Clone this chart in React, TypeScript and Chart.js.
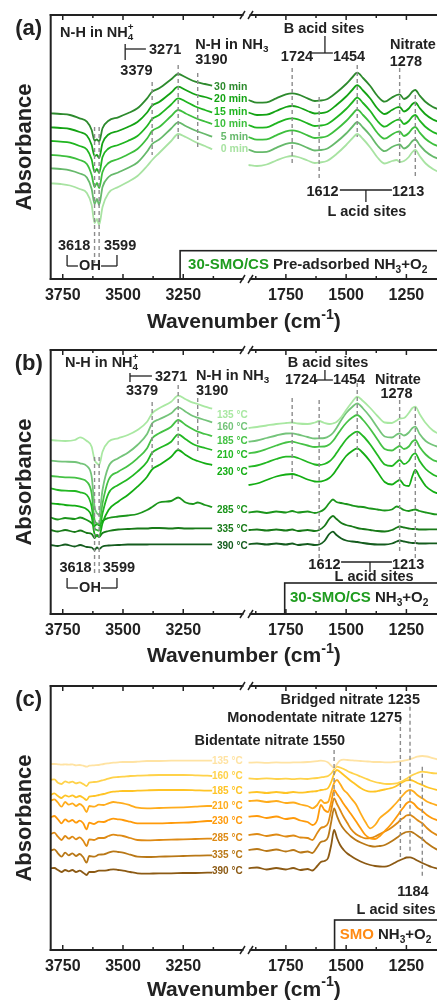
import React, { useEffect, useRef } from "react";
import { Chart, registerables } from "chart.js";

Chart.register(...registerables);

const FONT = '"Liberation Sans", Arial, Helvetica, sans-serif';
const INK = "#222222";
const DASH = "#8c8c8c";
const GREEN_TXT = "#1f9c1f";
const ORANGE_TXT = "#ff8a14";

// broken x axis: 3800 -> 3000 | 1926 -> 1123
const LEFT_START = 3800;
const BREAK_C = 800;
const RIGHT_START = 1926;
const X_MAX_C = 1603;
const Y_MAX = 264;
const toC = (wn: number) => (wn >= 2500 ? LEFT_START - wn : BREAK_C + (RIGHT_START - wn));
const fromC = (c: number) => (c <= BREAK_C ? LEFT_START - c : RIGHT_START - (c - BREAK_C));

const X_MAJOR_TICKS = [3750, 3500, 3250, 1750, 1500, 1250];
const X_MINOR_TICKS = [3625, 3375, 3125, 1875, 1625, 1375];

// ---------------- Panel (a) data ----------------
const A_WN_LEFT = [3800, 3760, 3720, 3680, 3650, 3630, 3618, 3608, 3599, 3585, 3560, 3520, 3480, 3440, 3400, 3379, 3350, 3300, 3271, 3240, 3200, 3160, 3130];
const A_WN_RIGHT = [1905, 1870, 1830, 1790, 1750, 1724, 1700, 1660, 1630, 1612, 1580, 1540, 1500, 1475, 1454, 1430, 1400, 1370, 1340, 1310, 1290, 1278, 1260, 1240, 1225, 1213, 1195, 1170, 1140, 1120];
const A_TIMES = ["30 min", "20 min", "15 min", "10 min", "5 min", "0 min"];
const A_30_L = [165.7, 165, 164, 160.7, 157.3, 149, 138.3, 139.7, 137.3, 150.7, 158.3, 161.7, 165.7, 170.7, 180.7, 187.3, 190.7, 199.7, 205, 201.7, 197.3, 195, 193.3];
const A_30_R = [179, 176.3, 176.7, 180.7, 184.7, 185.7, 184.7, 180.7, 178, 178.3, 179.7, 186.5, 195, 201.5, 206.3, 201, 193, 183, 177.3, 181.5, 184, 184.7, 180, 183, 187.5, 189, 183.5, 177, 172, 170];
const A_20_L = [151.7, 151, 150, 147, 143.5, 134, 123, 124, 121, 136, 144.5, 148, 152, 157, 166.5, 173.5, 177, 186.5, 192.3, 189, 184.5, 182, 179.7];
const A_20_R = [166.5, 164, 164.3, 168, 172, 173, 172, 168, 165.5, 165.8, 167, 174, 182.5, 189, 193.8, 188.5, 180.5, 170.5, 165, 169, 171.5, 172, 167.5, 170.5, 175, 176.5, 171, 164.5, 159.5, 157.5];
const A_15_L = [138, 137.3, 136.3, 133, 129.5, 119.5, 107, 110, 106, 122, 130.5, 134, 138, 143, 153, 160, 164, 174.5, 180.7, 177.5, 172.5, 169, 166.7];
const A_15_R = [154, 151.3, 151.7, 155.7, 159.7, 160.7, 159.7, 155.7, 153, 153.3, 154.7, 161.5, 170, 176.5, 181.3, 176, 168, 158, 152.3, 156.5, 159, 159.5, 155, 158, 162.5, 164, 158.5, 152, 147, 145];
const A_10_L = [124, 123.3, 122, 119, 115, 104, 92, 96, 91, 107, 116, 120, 124.5, 130, 140.5, 148, 152, 163, 169, 165.5, 161, 157.5, 155];
const A_10_R = [142, 139.3, 139.7, 143.7, 147.7, 148.7, 147.7, 143.7, 141, 141.3, 142.7, 149.5, 158, 164.5, 169.3, 164, 156, 146, 140.3, 144.5, 147, 147.5, 143, 146, 150.5, 152, 146.5, 140, 135, 133];
const A_5_L = [110.7, 110, 108.7, 105.5, 101.5, 90, 75, 80, 74, 92, 102, 106.5, 111, 116.5, 127.5, 135, 139.5, 150.5, 156.7, 153, 148.5, 145, 142.3];
const A_5_R = [129.5, 126.8, 127.2, 131.2, 135.2, 136.2, 135.2, 131.2, 128.5, 128.8, 130.2, 137, 145.5, 152, 156.8, 151.5, 143.5, 133.5, 127.8, 132, 134, 134.5, 130.5, 133.5, 138, 139.5, 134, 127.5, 122.5, 120.5];
const A_0_L = [95.7, 95, 93.5, 90, 86, 74, 56, 60, 54, 72, 86, 92, 97, 103, 113, 119, 126, 138, 145, 142, 137, 133, 129.7];
const A_0_R = [114, 113, 114.5, 118.5, 122, 123, 122, 118.5, 116, 116.5, 118, 125, 134, 140.5, 145, 140, 131.5, 121.5, 115.5, 118, 119, 117, 118, 122, 127, 129, 123, 115.5, 110, 107.5];

// ---------------- Panel (b) data ----------------
const B_WN_LEFT = [3800, 3770, 3740, 3700, 3678, 3650, 3630, 3618, 3608, 3599, 3585, 3560, 3520, 3480, 3440, 3400, 3379, 3350, 3300, 3271, 3240, 3210, 3190, 3160, 3130];
const B_WN_RIGHT = [1905, 1870, 1830, 1790, 1750, 1724, 1700, 1660, 1630, 1612, 1590, 1570, 1555, 1540, 1520, 1500, 1475, 1454, 1430, 1400, 1370, 1340, 1310, 1290, 1278, 1260, 1240, 1225, 1213, 1195, 1170, 1140, 1120];
const B_TEMPS = ["135 °C", "160 °C", "185 °C", "210 °C", "230 °C", "285 °C", "335 °C", "390 °C"];
const B_135_L = [174, 173.3, 173, 174, 176.7, 173, 167.3, 154, 150.7, 149, 162.3, 172.3, 175.7, 179, 184, 192.3, 200.7, 205.7, 212.3, 218.3, 214.7, 211.3, 210, 207.3, 205.3];
const B_135_R = [186, 187, 188.5, 190, 191, 191.5, 190.5, 190, 191.5, 193, 191, 190, 190.5, 192, 197, 204, 212, 217.3, 213, 206, 198, 191.5, 191, 193.5, 195.5, 196, 201, 206, 207.3, 200, 191, 183.5, 180.7];
const B_160_L = [153.3, 152.7, 152.3, 152, 150.7, 148, 137.3, 107.3, 100.7, 99, 124, 147.3, 155.7, 161.3, 169, 180, 190.7, 194.7, 200.7, 206.7, 202.3, 198, 196.3, 194, 191.7];
const B_160_R = [172.3, 173.5, 176, 178.5, 180.5, 180.7, 179.5, 177, 175.5, 175.7, 176, 178, 181, 186, 194, 201, 207, 210.7, 205.5, 197, 186.5, 177.5, 176.5, 179.5, 180.7, 178.5, 181.5, 186, 187.3, 180, 173, 169, 167.3];
const B_185_L = [138, 137.3, 136.7, 136.3, 135.3, 132.3, 120.7, 94, 90.7, 90, 110.7, 134, 142.3, 148, 155.7, 165.7, 175.7, 180.7, 187.3, 194, 189, 184.7, 182.3, 180, 178];
const B_185_R = [160.7, 162, 165, 168.5, 171.5, 172.3, 171, 168.5, 167, 167.3, 167.5, 169.5, 173, 178, 185, 191, 196.5, 199, 194, 185, 174.5, 165, 163.5, 166.5, 168, 165, 167.5, 172.5, 174, 167, 159.5, 154, 152.3];
const B_210_L = [125.7, 124, 123.3, 123, 121.7, 119, 107.3, 85.7, 84, 83.3, 100.7, 120.7, 129, 134.7, 142.3, 152.3, 161.3, 165.7, 172.3, 179.7, 174.7, 170, 168, 166, 164];
const B_210_R = [147.3, 148.5, 151.5, 155, 157.3, 157.3, 156, 152, 149.5, 149, 150, 152.5, 156, 161, 168, 174.5, 180, 182.3, 178, 169.5, 159, 149.5, 148, 152, 154, 150, 153, 159, 160.7, 153, 145, 139.5, 137.3];
const B_230_L = [110.7, 110, 109, 108.3, 107.3, 104.7, 97.3, 80, 78, 77.3, 90.7, 104, 112.3, 119, 127.3, 137.3, 144.7, 149, 157.3, 164, 159, 154.7, 153, 150.7, 149];
const B_230_R = [129, 130.5, 134, 137.5, 139.5, 140, 138.5, 134.5, 132.5, 132.3, 133.5, 136, 139.5, 144.5, 151.5, 158, 163, 165.7, 161, 152.5, 142, 132, 129.5, 132.5, 134, 129, 128, 138, 144, 137, 128, 122.5, 120.7];
const B_285_L = [96.5, 94.5, 96, 95, 96.5, 94, 91, 88, 90, 88.5, 93, 96, 97.5, 98.5, 100, 104, 107, 111.5, 113, 116.5, 111.5, 110, 111.5, 109, 107];
const B_285_R = [101.5, 102.5, 101, 102.5, 101.5, 103, 101.5, 102.5, 101, 102, 105, 111, 114.5, 112, 111, 110, 108.5, 107.5, 107, 105.5, 104.5, 103.5, 104.5, 107.5, 106.5, 104, 103, 104, 104.5, 103, 101.5, 100, 99.5];
const B_335_L = [84, 82.5, 84, 82, 83.5, 81, 80, 76, 79, 77, 81, 83, 84.5, 85, 85.5, 85.5, 86, 86, 85.5, 86, 85.5, 85.5, 85.7, 85.7, 85.7];
const B_335_R = [84, 84.5, 83.5, 84.5, 83.5, 84.5, 83, 84, 83, 84, 88, 95, 98, 95, 91, 89, 87.5, 86, 85, 84, 83, 82.5, 84, 86.5, 87.5, 86.5, 85.5, 85, 85, 84.5, 84.5, 84.7, 84.7];
const B_390_L = [69, 68, 69.5, 67.5, 69, 67, 66.5, 64, 66.5, 65, 67.5, 68.5, 69, 69.5, 69.5, 69.5, 69.7, 69.7, 69.7, 69.7, 69.7, 69.7, 69.7, 69.7, 69.7];
const B_390_R = [69.7, 70.5, 69.5, 70.5, 69.5, 70.5, 69, 70, 69, 69.5, 73, 80, 82.3, 79, 75.5, 73.5, 72.5, 72, 71, 70, 69.5, 69.5, 70.5, 72.5, 73.5, 72.5, 71.5, 71, 71, 70.5, 70.5, 70.7, 70.7];

// ---------------- Panel (c) data ----------------
const C_WN_LEFT = [3800, 3785, 3770, 3755, 3740, 3725, 3710, 3695, 3680, 3665, 3651, 3640, 3620, 3600, 3580, 3560, 3540, 3520, 3500, 3470, 3440, 3400, 3350, 3300, 3250, 3200, 3150, 3130];
const C_WN_RIGHT = [1905, 1870, 1830, 1790, 1750, 1720, 1690, 1660, 1640, 1620, 1605, 1590, 1575, 1562, 1550, 1538, 1525, 1510, 1495, 1480, 1460, 1440, 1420, 1400, 1380, 1360, 1340, 1320, 1300, 1285, 1275, 1260, 1250, 1235, 1220, 1205, 1184, 1165, 1145, 1120];
const C_TEMPS = ["135 °C", "160 °C", "185 °C", "210 °C", "230 °C", "285 °C", "335 °C", "390 °C"];
const C_135_L = [186, 186, 185.7, 185.3, 185.7, 185.3, 185.7, 184.7, 185, 184.3, 183.3, 184.3, 184.7, 185, 186, 186.7, 187.3, 187.7, 188, 188, 188.3, 189, 189, 189.3, 189.3, 189.3, 189.3, 189.3];
const C_135_R = [187.3, 187.6, 187.2, 187.6, 187.3, 187.6, 187.7, 188, 188.3, 188.8, 189.3, 189, 187.5, 184.5, 182, 186, 189.5, 190.3, 190, 189.7, 189.3, 189, 188.7, 188.3, 188, 188, 187.7, 187.7, 188, 188.3, 188.7, 189.3, 189.8, 190.7, 192, 193.3, 194, 193.5, 192.2, 190.5];
const C_160_L = [170, 170.7, 167.3, 166, 168.7, 167.3, 168.3, 166.7, 167.7, 166, 164, 167.3, 168, 168.7, 170, 171.3, 172.7, 173, 173.3, 174, 174.3, 174.7, 175, 175, 175, 174.7, 174.3, 174];
const C_160_R = [171.7, 171, 171.6, 171, 171.4, 170.8, 171.3, 171, 171.6, 172, 172.6, 173.2, 174, 176.5, 180.5, 183.3, 182.5, 181, 179, 177.3, 175.5, 173.5, 171.5, 169.5, 168, 167, 166.2, 166, 166.3, 167, 168, 169.8, 171.2, 173.5, 175.5, 177, 178.3, 177.8, 177, 176.5];
const C_185_L = [155, 156.7, 154, 152, 154.7, 153.3, 154.7, 152.7, 154, 152.3, 150, 153.3, 154, 155, 156, 157.3, 158.3, 158.7, 159, 159, 159.3, 159.7, 160, 160, 160, 159.7, 159.3, 159.3];
const C_185_R = [157.3, 158, 157, 158, 157, 158, 157.3, 158, 158.5, 159, 160, 160.5, 162, 168, 176, 180, 178, 175, 172, 169, 165.5, 162, 159.5, 158.3, 158.5, 159.5, 160.5, 161.5, 163, 165, 166.5, 168.5, 169.5, 170, 169, 167, 165, 163, 161.5, 160];
const C_210_L = [149.3, 150.7, 147.3, 143.3, 148, 145.3, 146.7, 144, 146, 143.3, 138, 144, 143.3, 145.3, 145, 146.7, 148, 147.3, 146.7, 144.7, 142.3, 141.7, 142, 142.3, 142.7, 143.3, 144, 144];
const C_210_R = [149, 149.5, 148, 149, 147, 147.5, 145.5, 144, 141.7, 145, 150, 147, 148, 158, 167, 170, 166, 160, 156.7, 152, 146, 136.7, 128, 121.7, 125, 132, 136, 140, 145, 149, 152, 156, 158.5, 160, 158.5, 155, 151.7, 148.5, 146.5, 144.5];
const C_230_L = [132.7, 134, 130.7, 126.7, 130.7, 128.3, 130, 127.3, 129.3, 126.7, 120.7, 127.3, 126, 128.3, 128, 130, 131.3, 130.7, 130, 128.3, 126.7, 126.7, 126.7, 127, 127.3, 128, 129, 129];
const C_230_R = [133.3, 134, 132, 133.5, 131, 132, 129.5, 128, 125, 130, 145, 140, 138, 148, 160, 156, 151.7, 146, 141, 136, 129, 121.7, 115, 111.7, 111, 114, 119, 124, 130, 135, 138.5, 143.3, 146.5, 148.3, 146.5, 142.5, 139, 135, 132, 129.5];
const C_285_L = [116, 117.3, 113.3, 110, 114, 111.3, 113.3, 110.7, 112.7, 109.3, 104, 110.7, 110, 112, 112, 114, 115.3, 114.7, 114, 112, 110, 109.7, 110, 110.3, 110.7, 111, 111.3, 111.3];
const C_285_R = [115, 116, 114, 115.5, 113.5, 114.5, 112.5, 112, 110, 117, 122, 123.3, 127, 140, 151.7, 146, 140, 133, 127, 121, 116, 113.3, 111.7, 112, 113.5, 116, 118.5, 121, 124.5, 127.5, 130, 132.5, 134.5, 135, 133, 130, 126.7, 122, 118, 114.5];
const C_335_L = [99.3, 100.7, 96.7, 93.3, 97.3, 94.7, 96.7, 94, 96, 92.7, 87.3, 94, 93.3, 95.3, 95.7, 97.3, 98.7, 98, 97.3, 95.3, 93.3, 93, 93.3, 93.7, 94, 94.3, 94.7, 94.7];
const C_335_R = [100, 101, 99, 100.5, 98.5, 100, 97.5, 98.5, 97, 103, 108, 109, 113, 128, 141.7, 134, 126.7, 121, 117, 113.5, 110, 107.5, 105.5, 104, 103.3, 104, 105, 107.5, 110.5, 113, 115, 117, 118, 118.3, 117, 114.5, 111, 107, 103.5, 100];
const C_390_L = [81.7, 82, 80, 78, 80, 78.7, 80, 78, 79.3, 77.3, 75, 78, 78, 79.3, 79.3, 80, 80.7, 80, 79.3, 78, 76.7, 76.3, 76.7, 76.7, 77, 77, 77.3, 77.3];
const C_390_R = [81.7, 82.5, 80.5, 82, 80.5, 82, 80, 81, 79.5, 84, 88, 89, 92, 105, 120, 112, 105, 100, 96.5, 94, 91, 88.5, 86.5, 85, 84, 83.5, 83.3, 84.5, 87, 89, 90, 91.5, 92.5, 92.7, 91.5, 89.5, 87, 85, 83, 81.5];

// ---------------- styling / annotation layout ----------------
type Seg = { t: string; s?: "sub" | "sup"; c?: string; stay?: boolean };
const T = (t: string, extra: any = {}): Seg => ({ t, ...extra });
type TextAnn = { segs: Seg[]; wn: number; v: number; align: "left" | "center" | "right"; size?: number };
type Line4 = [number, number, number, number];

const NH4 = [T("N-H in NH"), T("4", { s: "sub", stay: true }), T("+", { s: "sup" })];
const NH3 = [T("N-H in NH"), T("3", { s: "sub" })];
const GAS = [T(" NH"), T("3", { s: "sub" }), T("+O"), T("2", { s: "sub" })];

const PANELS: any[] = [
  {
    tag: "(a)", height: 335, axisH: 56, titleDy: 43.5,
    wnLeft: A_WN_LEFT, wnRight: A_WN_RIGHT,
    series: [
      { name: A_TIMES[0], color: "#2d8a2d", left: A_30_L, right: A_30_R },
      { name: A_TIMES[1], color: "#14a314", left: A_20_L, right: A_20_R },
      { name: A_TIMES[2], color: "#1fb51f", left: A_15_L, right: A_15_R },
      { name: A_TIMES[3], color: "#3dbf3d", left: A_10_L, right: A_10_R },
      { name: A_TIMES[4], color: "#66b96b", left: A_5_L, right: A_5_R },
      { name: A_TIMES[5], color: "#a8e3a2", left: A_0_L, right: A_0_R },
    ],
    labelSize: 10.5,
    labelPos: [[3122, 192.3], [3122, 179.7], [3122, 166.7], [3122, 155], [3094, 142.3], [3094, 129.7]],
    texts: [
      { segs: NH4, wn: 3761, v: 246, align: "left" },
      { segs: [T("3271")], wn: 3392, v: 229, align: "left" },
      { segs: [T("3379")], wn: 3444, v: 208, align: "center" },
      { segs: NH3, wn: 3200, v: 234, align: "left" },
      { segs: [T("3190")], wn: 3200, v: 219, align: "left" },
      { segs: [T("B acid sites")], wn: 1592, v: 250, align: "center" },
      { segs: [T("1724")], wn: 1704, v: 222, align: "center" },
      { segs: [T("1454")], wn: 1488, v: 222, align: "center" },
      { segs: [T("Nitrate")], wn: 1223, v: 234, align: "center" },
      { segs: [T("1278")], wn: 1252, v: 217, align: "center" },
      { segs: [T("1612")], wn: 1598, v: 87, align: "center" },
      { segs: [T("1213")], wn: 1243, v: 87, align: "center" },
      { segs: [T("L acid sites")], wn: 1414, v: 67, align: "center" },
      { segs: [T("3618")], wn: 3703, v: 33, align: "center" },
      { segs: [T("3599")], wn: 3512, v: 33, align: "center" },
      { segs: [T("OH")], wn: 3637, v: 13, align: "center" },
    ],
    lines: [
      [3491, 235, 3491, 219], [3491, 230, 3405, 230],
      [1588, 243, 1588, 226], [1646, 226, 1555, 226],
      [1526, 89, 1310, 89], [1418, 89, 1418, 77],
      [3732, 24, 3732, 13], [3732, 13, 3687, 13], [3591, 13, 3525, 13], [3525, 13, 3525, 24],
    ],
    dashes: [
      [3379, 197, 3379, 124], [3271, 214, 3271, 139], [3190, 206, 3190, 132],
      [1724, 211, 1724, 116], [1612, 182, 1612, 99], [1454, 214, 1454, 142], [1278, 211, 1278, 116], [1213, 184, 1213, 101],
      [3618, 152, 3618, 16], [3599, 152, 3599, 16],
    ],
    box: { wn: 3263, v: 28.3, textWn: 3230, textV: 14, size: 15,
      segs: [T("30-SMO/CS", { c: GREEN_TXT }), T(" Pre-adsorbed NH"), T("3", { s: "sub" }), T("+O"), T("2", { s: "sub" })] },
  },
  {
    tag: "(b)", height: 336, axisH: 57, titleDy: 42.5,
    wnLeft: B_WN_LEFT, wnRight: B_WN_RIGHT,
    series: [
      { name: B_TEMPS[0], color: "#a9e8a2", left: B_135_L, right: B_135_R },
      { name: B_TEMPS[1], color: "#74c47a", left: B_160_L, right: B_160_R },
      { name: B_TEMPS[2], color: "#45c245", left: B_185_L, right: B_185_R },
      { name: B_TEMPS[3], color: "#23b823", left: B_210_L, right: B_210_R },
      { name: B_TEMPS[4], color: "#13ad13", left: B_230_L, right: B_230_R },
      { name: B_TEMPS[5], color: "#1b951b", left: B_285_L, right: B_285_R },
      { name: B_TEMPS[6], color: "#187a18", left: B_335_L, right: B_335_R },
      { name: B_TEMPS[7], color: "#145c1e", left: B_390_L, right: B_390_R },
    ],
    labelSize: 10,
    labelPos: [[3110, 199], [3110, 186.3], [3110, 173], [3110, 159], [3110, 142], [3110, 104], [3110, 85], [3110, 68]],
    texts: [
      { segs: NH4, wn: 3741, v: 251.3, align: "left" },
      { segs: [T("3271")], wn: 3367, v: 237, align: "left" },
      { segs: [T("3379")], wn: 3421, v: 223, align: "center" },
      { segs: NH3, wn: 3197, v: 238, align: "left" },
      { segs: [T("3190")], wn: 3197, v: 223, align: "left" },
      { segs: [T("B acid sites")], wn: 1575, v: 251.3, align: "center" },
      { segs: [T("1724")], wn: 1687, v: 234, align: "center" },
      { segs: [T("1454")], wn: 1488, v: 234, align: "center" },
      { segs: [T("Nitrate")], wn: 1285, v: 234, align: "center" },
      { segs: [T("1278")], wn: 1291, v: 220, align: "center" },
      { segs: [T("1612")], wn: 1590, v: 49, align: "center" },
      { segs: [T("1213")], wn: 1243, v: 49, align: "center" },
      { segs: [T("L acid sites")], wn: 1384, v: 37, align: "center" },
      { segs: [T("3618")], wn: 3697, v: 46, align: "center" },
      { segs: [T("3599")], wn: 3517, v: 46, align: "center" },
      { segs: [T("OH")], wn: 3637, v: 26, align: "center" },
    ],
    lines: [
      [3471, 241, 3471, 232], [3471, 238, 3380, 238],
      [1588, 244, 1588, 234], [1625, 234, 1555, 234],
      [1521, 52, 1310, 52], [1401, 52, 1401, 42],
      [3732, 36, 3732, 26], [3732, 26, 3687, 26], [3591, 26, 3525, 26], [3525, 26, 3525, 36],
    ],
    dashes: [
      [3379, 212, 3379, 146], [3271, 229, 3271, 164], [3190, 216, 3190, 161],
      [1724, 216, 1724, 134], [1612, 214, 1612, 54], [1454, 231, 1454, 157], [1278, 214, 1278, 61], [1213, 207, 1213, 54],
      [3618, 157, 3618, 41], [3599, 157, 3599, 41],
    ],
    box: { wn: 1755, v: 31, textWn: 1733, textV: 16, size: 15,
      segs: [T("30-SMO/CS", { c: GREEN_TXT }), ...GAS] },
  },
  {
    tag: "(c)", height: 332, axisH: 53, titleDy: 40,
    wnLeft: C_WN_LEFT, wnRight: C_WN_RIGHT,
    series: [
      { name: C_TEMPS[0], color: "#ffe3a3", left: C_135_L, right: C_135_R },
      { name: C_TEMPS[1], color: "#ffd24a", left: C_160_L, right: C_160_R },
      { name: C_TEMPS[2], color: "#ffc425", left: C_185_L, right: C_185_R },
      { name: C_TEMPS[3], color: "#ffac1c", left: C_210_L, right: C_210_R },
      { name: C_TEMPS[4], color: "#ff9a0a", left: C_230_L, right: C_230_R },
      { name: C_TEMPS[5], color: "#de8a14", left: C_285_L, right: C_285_R },
      { name: C_TEMPS[6], color: "#b97817", left: C_335_L, right: C_335_R },
      { name: C_TEMPS[7], color: "#8c5a14", left: C_390_L, right: C_390_R },
    ],
    labelSize: 10,
    labelPos: [[3131, 189], [3131, 173.3], [3131, 158.3], [3131, 143.3], [3131, 128.3], [3131, 111.7], [3131, 95], [3131, 78.3]],
    texts: [
      { segs: [T("Bridged nitrate 1235")], wn: 1483, v: 250, align: "center" },
      { segs: [T("Monodentate nitrate 1275")], wn: 1631, v: 231.7, align: "center" },
      { segs: [T("Bidentate nitrate 1550")], wn: 1817, v: 209, align: "center" },
      { segs: [T("1184")], wn: 1223, v: 58.3, align: "center" },
      { segs: [T("L acid sites")], wn: 1293, v: 40, align: "center" },
    ],
    lines: [],
    dashes: [
      [1550, 200, 1550, 150], [1275, 230, 1275, 90], [1235, 243.3, 1235, 98.3], [1184, 183.3, 1184, 73.3],
    ],
    box: { wn: 1548, v: 30, textWn: 1527, textV: 15, size: 15,
      segs: [T("SMO", { c: ORANGE_TXT }), ...GAS] },
  },
];

function buildPoints(wl: number[], l: number[], wr: number[], r: number[]) {
  const pts: any[] = [];
  wl.forEach((w, i) => pts.push({ x: toC(w), y: l[i] }));
  pts.push({ x: BREAK_C, y: null });
  wr.forEach((w, i) => pts.push({ x: toC(w), y: r[i] }));
  return pts;
}

function segFont(s: Seg, size: number) {
  const sz = s.s ? size * 0.68 : size;
  return `bold ${sz}px ${FONT}`;
}

function drawRich(ctx: CanvasRenderingContext2D, segs: Seg[], x: number, y: number, align: string, size: number, color: string) {
  const widths = segs.map((s) => {
    ctx.font = segFont(s, size);
    return ctx.measureText(s.t).width;
  });
  const total = widths.reduce((a, w, i) => a + (segs[i].stay ? 0 : w), 0);
  let cx = align === "left" ? x : align === "center" ? x - total / 2 : x - total;
  ctx.textBaseline = "middle";
  ctx.textAlign = "left";
  segs.forEach((s, i) => {
    ctx.font = segFont(s, size);
    ctx.fillStyle = s.c || color;
    const dy = s.s === "sub" ? size * 0.32 : s.s === "sup" ? -size * 0.36 : 0;
    ctx.fillText(s.t, cx, y + dy);
    if (!s.stay) cx += widths[i];
  });
}

function decorPlugin(p: any) {
  return {
    id: "decor",
    afterDatasetsDraw(chart: any) {
      const ctx = chart.ctx as CanvasRenderingContext2D;
      const xs = chart.scales.x, ys = chart.scales.y;
      const X = (wn: number) => xs.getPixelForValue(toC(wn));
      const Y = (v: number) => ys.getPixelForValue(v);
      ctx.save();
      ctx.strokeStyle = DASH;
      ctx.lineWidth = 1.4;
      ctx.setLineDash([4, 3]);
      p.dashes.forEach(([w1, v1, w2, v2]: Line4) => {
        ctx.beginPath();
        ctx.moveTo(X(w1), Y(v1));
        ctx.lineTo(X(w2), Y(v2));
        ctx.stroke();
      });
      ctx.restore();
    },
    afterDraw(chart: any) {
      const ctx = chart.ctx as CanvasRenderingContext2D;
      const ca = chart.chartArea;
      const xs = chart.scales.x, ys = chart.scales.y;
      const X = (wn: number) => xs.getPixelForValue(toC(wn));
      const Y = (v: number) => ys.getPixelForValue(v);
      const L = ca.left, R = ca.right, Tp = ca.top, B = ca.bottom;
      const seg = (x1: number, y1: number, x2: number, y2: number) => {
        ctx.beginPath();
        ctx.moveTo(x1, y1);
        ctx.lineTo(x2, y2);
        ctx.stroke();
      };
      ctx.save();
      // box (legend-like label)
      const bx = X(p.box.wn), by = Y(p.box.v);
      ctx.fillStyle = "#ffffff";
      ctx.fillRect(bx, by, R + 10 - bx, B - by);
      ctx.strokeStyle = INK;
      ctx.lineWidth = 1.6;
      ctx.strokeRect(bx, by, R + 10 - bx, B - by);
      drawRich(ctx, p.box.segs, X(p.box.textWn), Y(p.box.textV), "left", p.box.size, INK);

      // frame
      ctx.strokeStyle = INK;
      ctx.lineWidth = 2;
      seg(L, Tp - 1, L, B + 1);
      seg(L - 1, Tp, R + 2, Tp);
      seg(L - 1, B, R + 2, B);
      // inward ticks
      ctx.lineWidth = 1.5;
      X_MAJOR_TICKS.forEach((w) => {
        const x = X(w);
        seg(x, B, x, B - 5);
        seg(x, Tp, x, Tp + 5);
      });
      X_MINOR_TICKS.forEach((w) => {
        const x = X(w);
        seg(x, B, x, B - 3);
        seg(x, Tp, x, Tp + 3);
      });
      // axis break marks
      const bk = xs.getPixelForValue(BREAK_C) + 3;
      [Tp, B].forEach((yy) => {
        ctx.fillStyle = "#ffffff";
        ctx.fillRect(bk - 3, yy - 2, 6, 4);
        ctx.strokeStyle = INK;
        ctx.lineWidth = 1.5;
        seg(bk - 6.5, yy + 4, bk - 1.5, yy - 4);
        seg(bk + 1.5, yy + 4, bk + 6.5, yy - 4);
      });

      // bracket lines
      ctx.strokeStyle = INK;
      ctx.lineWidth = 1.3;
      p.lines.forEach(([w1, v1, w2, v2]: Line4) => seg(X(w1), Y(v1), X(w2), Y(v2)));

      // annotation texts
      p.texts.forEach((t: TextAnn) => drawRich(ctx, t.segs, X(t.wn), Y(t.v), t.align, t.size || 14.5, INK));

      // series labels
      p.series.forEach((s: any, i: number) => {
        const [w, v] = p.labelPos[i];
        drawRich(ctx, [T(s.name)], X(w), Y(v), "left", p.labelSize, s.color);
      });

      // panel tag
      drawRich(ctx, [T(p.tag)], L - 22, Tp + 14, "center", 22, INK);

      // x axis title
      drawRich(ctx, [T("Wavenumber (cm"), T("-1", { s: "sup" }), T(")")], (L + R) / 2, B + p.titleDy, "center", 21, INK);
      ctx.restore();
    },
  };
}

function makeConfig(p: any): any {
  return {
    type: "line",
    data: {
      datasets: p.series.map((s: any) => ({
        label: s.name,
        data: buildPoints(p.wnLeft, s.left, p.wnRight, s.right),
        borderColor: s.color,
        backgroundColor: s.color,
        borderWidth: 1.8,
        pointRadius: 0,
        cubicInterpolationMode: "monotone",
        fill: false,
      })),
    },
    options: {
      responsive: false,
      animation: false,
      devicePixelRatio: 1,
      events: [],
      layout: { padding: { top: 15, left: 0, right: 0, bottom: 0 } },
      plugins: { legend: { display: false }, tooltip: { enabled: false } },
      scales: {
        x: {
          type: "linear",
          min: 0,
          max: X_MAX_C,
          grid: { display: false, drawTicks: false },
          border: { display: false },
          afterBuildTicks: (scale: any) => {
            scale.ticks = X_MAJOR_TICKS.map((w) => ({ value: toC(w) }));
          },
          afterFit: (scale: any) => {
            scale.height = p.axisH;
          },
          ticks: {
            autoSkip: false,
            maxRotation: 0,
            padding: 7,
            color: INK,
            font: { family: FONT, size: 16, weight: "bold" },
            callback: (v: any) => String(Math.round(fromC(Number(v)))),
          },
        },
        y: {
          min: 0,
          max: Y_MAX,
          ticks: { display: false },
          grid: { display: false, drawTicks: false },
          border: { display: false },
          title: {
            display: true,
            text: "Absorbance",
            color: INK,
            font: { family: FONT, size: 22, weight: "bold" },
            padding: { top: 12, bottom: 0 },
          },
          afterFit: (scale: any) => {
            scale.width = 50.7;
          },
        },
      },
    },
    plugins: [decorPlugin(p)],
  };
}

export default function App() {
  const r1 = useRef<HTMLCanvasElement>(null);
  const r2 = useRef<HTMLCanvasElement>(null);
  const r3 = useRef<HTMLCanvasElement>(null);
  const refs = [r1, r2, r3];
  useEffect(() => {
    document.body.style.margin = "0";
    const charts = PANELS.map((p, i) => new Chart(refs[i].current as HTMLCanvasElement, makeConfig(p)));
    return () => charts.forEach((c) => c.destroy());
  }, []);
  return (
    <div style={{ width: 437, background: "#ffffff", overflow: "hidden" }}>
      {PANELS.map((p, i) => (
        <canvas
          key={p.tag}
          ref={refs[i]}
          width={437}
          height={p.height}
          style={{ display: "block", width: 437, height: p.height }}
        />
      ))}
    </div>
  );
}
